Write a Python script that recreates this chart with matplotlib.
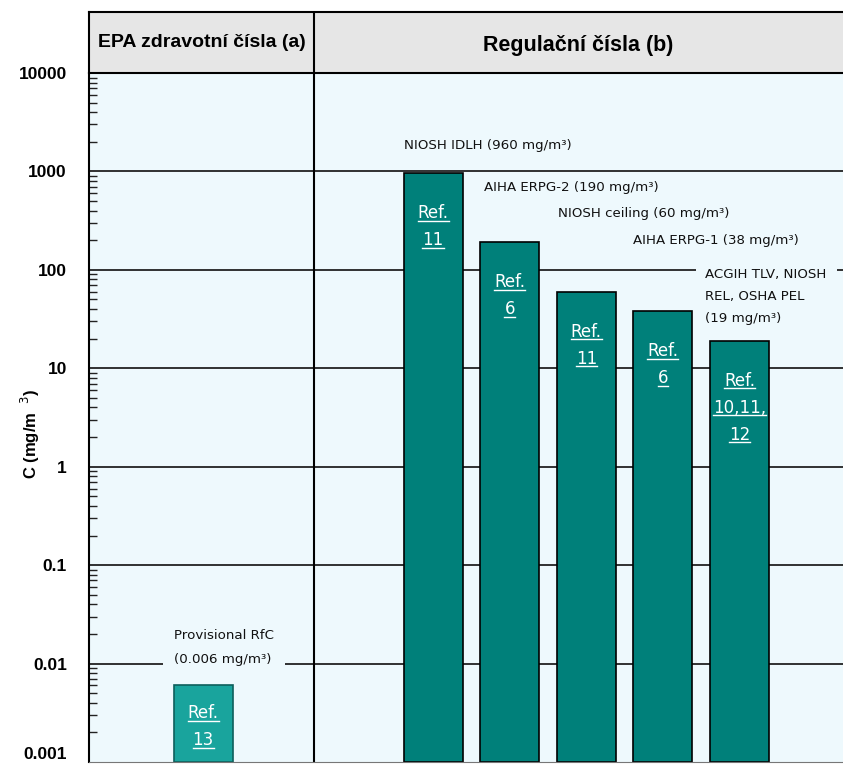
import numpy as np
import matplotlib
matplotlib.use('Agg')
from matplotlib import pyplot as plt
from matplotlib.lines import Line2D

# data
epa_values = [0.006]
epa_refs = [['Ref.', '13']]
epa_labels = ['Provisional RfC\n(0.006 mg/m³)']

reg_values = [960, 190, 60, 38, 19]
reg_refs = [['Ref.', '11'], ['Ref.', '6'], ['Ref.', '11'], ['Ref.', '6'], ['Ref.', '10,11,', '12']]
reg_labels = ['NIOSH IDLH (960 mg/m³)', 'AIHA ERPG-2 (190 mg/m³)', 'NIOSH ceiling (60 mg/m³)',
              'AIHA ERPG-1 (38 mg/m³)', 'ACGIH TLV, NIOSH\nREL, OSHA PEL\n(19 mg/m³)']
tick_vals = [0.001, 0.01, 0.1, 1, 10, 100, 1000, 10000]
tick_labels = ['0.001', '0.01', '0.1', '1', '10', '100', '1000', '10000']

# layout (label heights in data units, x shift in bar units)
reg_label_y = [1820, 690, 370, 200, 53]
reg_label_dx = [0.01, 0.05, 0.01, -0.01, -0.06]
reg_label_box = [False, False, False, False, True]
epa_label_y = [0.0145]
W = 0.77
bg = '#eef9fd'
dark = '#00807a'
light = '#19a49d'

fig = plt.figure(figsize=(8.43, 7.69), dpi=100)
ax = fig.add_axes([89/843, 7/769, 754/843, 689/769])
hd = fig.add_axes([89/843, 696/769, 754/843, 61/769])

xlim = (-4.49, 5.35)
ax.set_xlim(*xlim)
ax.set_yscale('log')
ax.set_ylim(0.001, 10000)
ax.set_facecolor(bg)

for t in tick_vals[1:-1]:
    ax.axhline(t, color='#222222', lw=1.3, zorder=1)
ax.axvline(-1.55, color='black', lw=1.5, zorder=1)

epa_x = [-3]
reg_x = list(range(len(reg_values)))

ax.bar(epa_x, [v - 0.001 for v in epa_values], bottom=0.001, width=W, color=light,
       edgecolor='#0d5f5b', lw=1.2, zorder=2)
ax.bar(reg_x, [v - 0.001 for v in reg_values], bottom=0.001, width=W, color=dark,
       edgecolor='black', lw=1.2, zorder=2)

lab_font = dict(family='DejaVu Sans', size=9.6, color='#111111')
for x, y, s in zip(epa_x, epa_label_y, epa_labels):
    ax.text(x - W/2, y, s, ha='left', va='center', linespacing=2.1, zorder=3,
            bbox=dict(facecolor=bg, edgecolor='none', pad=8), **lab_font)
for x, y, dx, s, box in zip(reg_x, reg_label_y, reg_label_dx, reg_labels, reg_label_box):
    kw = dict(bbox=dict(facecolor=bg, edgecolor='none', pad=7)) if box else {}
    ax.text(x - W/2 + dx, y, s, ha='left', va='center', linespacing=1.9, zorder=3,
            **lab_font, **kw)

# Ref. texts in bars
ref_texts = []
def put_refs(xs, vals, refs, first):
    for x, v, lines in zip(xs, vals, refs):
        for i, s in enumerate(lines):
            t = ax.annotate(s, xy=(x, v), xytext=(0, -(first + 27*i)/1.389),
                            textcoords='offset points', ha='center', va='center',
                            color='white', fontsize=12, family='DejaVu Sans', zorder=4)
            ref_texts.append(t)
put_refs(epa_x, epa_values, epa_refs, 28)
put_refs(reg_x, reg_values, reg_refs, 40)

ax.set_yticks(tick_vals)
ax.set_yticklabels(tick_labels)
ax.yaxis.set_minor_locator(matplotlib.ticker.LogLocator(base=10, subs=np.arange(2, 10)))
ax.yaxis.set_minor_formatter(matplotlib.ticker.NullFormatter())
ax.tick_params(axis='y', which='major', length=0, pad=16)
ax.tick_params(axis='y', which='minor', direction='in', length=6, width=1, color='#222222')
for lab in ax.get_yticklabels():
    lab.set_fontweight('bold')
    lab.set_fontsize(12.5)
    lab.set_family('Liberation Sans')
ax.get_yticklabels()[0].set_verticalalignment('bottom')
ax.set_xticks([])
ax.spines['right'].set_visible(False)
ax.spines['top'].set_visible(False)
ax.spines['left'].set_linewidth(1.5)
ax.spines['bottom'].set_color('#777777')
fig.text(30/843, 1 - 434/769, 'C (mg/m  $^{3}$)', rotation=90, ha='center', va='center',
         fontsize=12, fontweight='bold', family='Liberation Sans')

# header
hd.set_facecolor('#e6e6e6')
hd.set_xlim(*xlim)
hd.set_ylim(0, 1)
hd.set_xticks([])
hd.set_yticks([])
hd.spines['right'].set_visible(False)
for sp in ['top', 'left', 'bottom']:
    hd.spines[sp].set_linewidth(1.5)
hd.axvline(-1.55, color='black', lw=1.5)
hdfont = dict(family=['Liberation Sans Narrow', 'Liberation Sans'], fontweight='bold')
hd.text((xlim[0] - 1.55)/2, 0.5, 'EPA zdravotní čísla (a)', ha='center', va='center',
        fontsize=14, **hdfont)
hd.text((xlim[1] - 1.55)/2, 0.45, 'Regulační čísla (b)', ha='center', va='center',
        fontsize=15.5, **hdfont)

# underline the Ref. texts
fig.canvas.draw()
r = fig.canvas.get_renderer()
inv = fig.transFigure.inverted()
for t in ref_texts:
    bb = t.get_window_extent(r)
    (x0, y0), (x1, _) = inv.transform([(bb.x0, bb.y0 + 1.5), (bb.x1, bb.y0 + 1.5)])
    fig.add_artist(Line2D([x0, x1], [y0, y0], transform=fig.transFigure, color='white', lw=1))

fig.savefig('out.png', dpi=100)
